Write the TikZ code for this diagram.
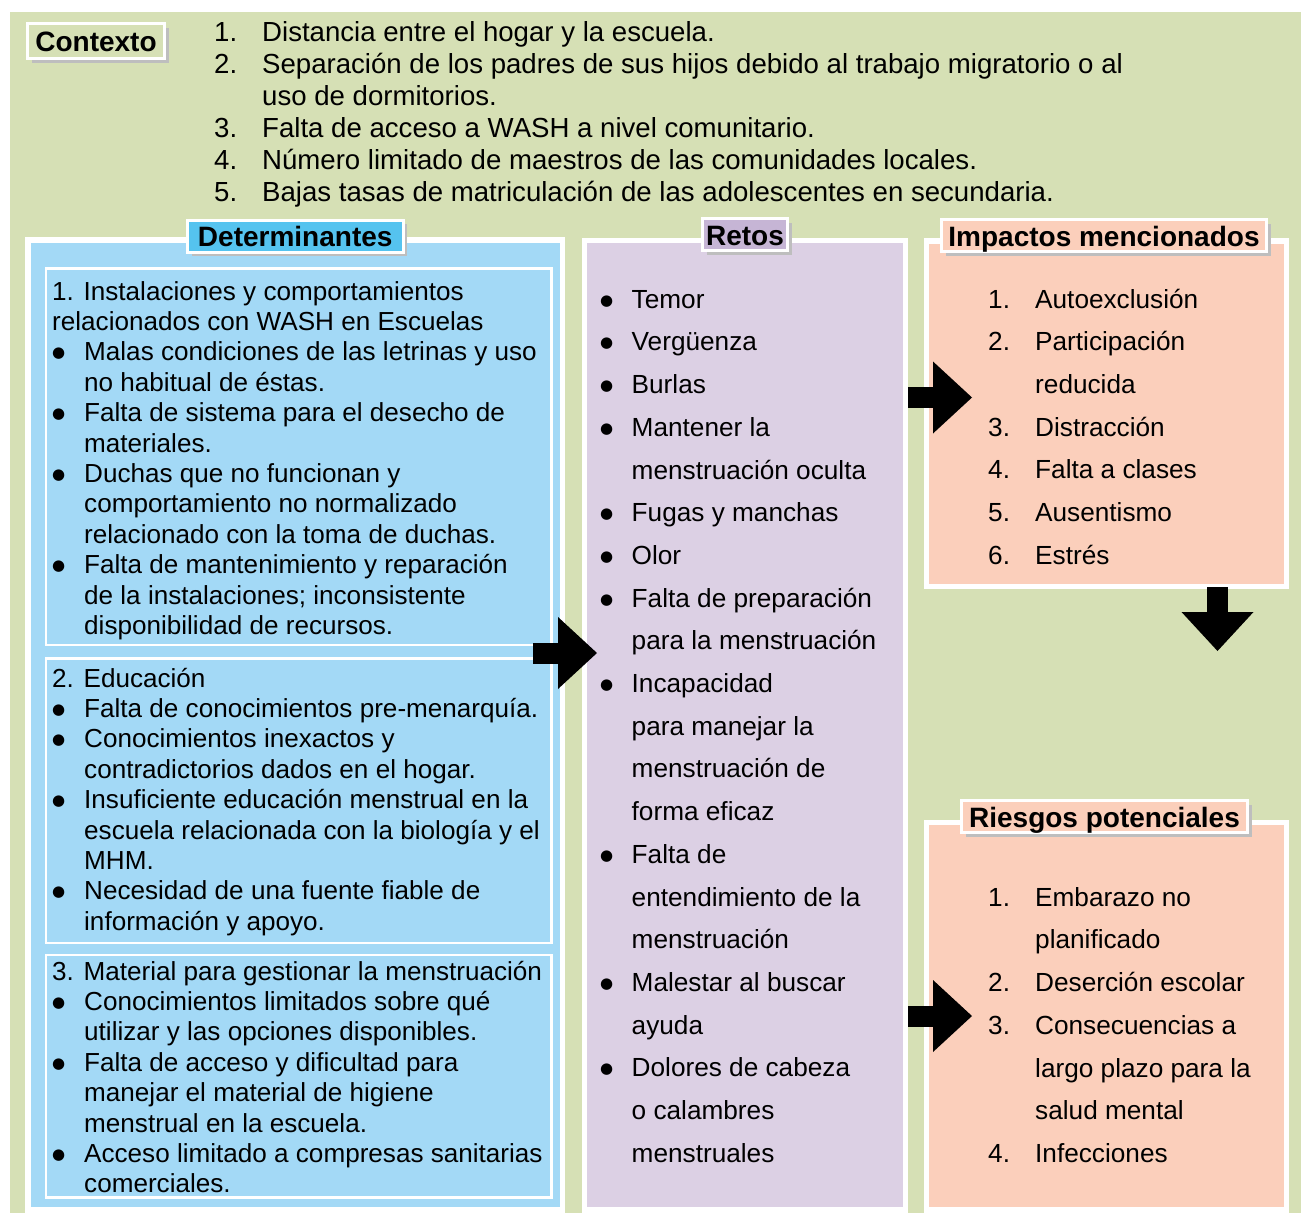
\documentclass[tikz,border=0pt]{standalone}
\usepackage{fontspec}
\setmainfont{Liberation Sans}
\newfontfamily\simbolos{DejaVu Sans}
\usepackage{xcolor}
\usetikzlibrary{arrows.meta, positioning, shadows}

\definecolor{fondo}{HTML}{D6E0B5}
\definecolor{azul}{HTML}{A3D9F6}
\definecolor{azultit}{HTML}{55C3EF}
\definecolor{lila}{HTML}{DCD0E4}
\definecolor{lilatit}{HTML}{C6B5D5}
\definecolor{salmon}{HTML}{FBCFBB}
\definecolor{sombra}{HTML}{BEBEBE}

\newcommand\linea[1]{\multicolumn{2}{@{}l@{}}{#1}}
\newcommand\punto{\raisebox{3pt}{\simbolos\fontsize{15}{16}\selectfont ●}}

\begin{document}
\begin{tikzpicture}[x=1pt,y=-1pt]
    \tikzstyle{panel}=[rectangle,draw=white,line width=5.5pt,inner sep=0pt,outer sep=0pt,anchor=north west]
    \tikzstyle{inbox}=[panel,fill=azul,line width=2.5pt,minimum width=505.5pt]
    \tikzstyle{heading}=[rectangle,draw=white,line width=3pt,inner xsep=0pt,inner ysep=3pt,outer sep=0pt,text height=23.5pt,text depth=2.5pt,font=\fontsize{28}{30}\selectfont\bfseries,drop shadow={fill=sombra,opacity=1,shadow xshift=4pt,shadow yshift=-4pt}]
    \tikzstyle{txt}=[anchor=north west,inner sep=0pt]
    \tikzstyle{bigarrow}=[draw,line width=21pt,-{Triangle[length=39pt,width=72pt,line width=0pt]}]

    \useasboundingbox (0,0) rectangle (1301,1213);
    \fill[white] (0,0) rectangle (1301,1213);
    \fill[fondo] (10,12) rectangle (1301,1213);

    % columnas
    \node[panel,fill=azul,minimum width=534.5pt,minimum height=970pt] (det) at (28,240) {};
    \node[panel,fill=lila,minimum width=321pt,minimum height=969.5pt] (retos) at (584.5,240.5) {};
    \node[panel,fill=salmon,minimum width=360pt,minimum height=345.5pt] (imp) at (926.5,241) {};
    \node[panel,fill=salmon,minimum width=360pt,minimum height=387.5pt] (ries) at (926.5,822.5) {};
    \node[inbox,minimum height=376.5pt] (det1) at (46,268.5) {};
    \node[inbox,minimum height=284.5pt] (det2) at (46,658.5) {};
    \node[inbox,minimum height=242.5pt] (det3) at (46,955) {};

    % titulos
    \node[heading,fill=fondo,minimum width=137pt,minimum height=35pt] (ctx) at (96,41) {Contexto};
    \node[heading,fill=azultit,minimum width=215.5pt] (detlbl) at ([yshift=4pt]det.north) {Determinantes};
    \node[heading,fill=lilatit,minimum width=85pt] (retoslbl) at ([yshift=6pt]retos.north) {Retos};
    \node[heading,fill=salmon,minimum width=325pt] (implbl) at ([xshift=-2.5pt,yshift=5.5pt]imp.north) {Impactos mencionados};
    \node[heading,fill=salmon,minimum width=286pt] (rieslbl) at ([xshift=-2pt,yshift=6pt]ries.north) {Riesgos potenciales};

    % textos
    \node[txt,font=\fontsize{27.6}{32}\selectfont] (ctxlist) at (214,18.6) {%
      \begin{tabular}{@{}p{48pt}@{}l@{}}
      1. & Distancia entre el hogar y la escuela.\\
      2. & Separación de los padres de sus hijos debido al trabajo migratorio o al\\
         & uso de dormitorios.\\
      3. & Falta de acceso a WASH a nivel comunitario.\\
      4. & Número limitado de maestros de las comunidades locales.\\
      5. & Bajas tasas de matriculación de las adolescentes en secundaria.
      \end{tabular}};
    \node[txt,font=\fontsize{26.1}{30.4}\selectfont] (det1txt) at (52,278.7) {%
      \begin{tabular}{@{}p{32pt}@{}l@{}}
      \linea{1. Instalaciones y comportamientos}\\
      \linea{relacionados con WASH en Escuelas}\\
      \punto & Malas condiciones de las letrinas y uso\\
             & no habitual de éstas.\\
      \punto & Falta de sistema para el desecho de\\
             & materiales.\\
      \punto & Duchas que no funcionan y\\
             & comportamiento no normalizado\\
             & relacionado con la toma de duchas.\\
      \punto & Falta de mantenimiento y reparación\\
             & de la instalaciones; inconsistente\\
             & disponibilidad de recursos.
      \end{tabular}};
    \node[txt,font=\fontsize{26.1}{30.4}\selectfont] (det2txt) at (52,665.7) {%
      \begin{tabular}{@{}p{32pt}@{}l@{}}
      \linea{2. Educación}\\
      \punto & Falta de conocimientos pre-menarquía.\\
      \punto & Conocimientos inexactos y\\
             & contradictorios dados en el hogar.\\
      \punto & Insuficiente educación menstrual en la\\
             & escuela relacionada con la biología y el\\
             & MHM.\\
      \punto & Necesidad de una fuente fiable de\\
             & información y apoyo.
      \end{tabular}};
    \node[txt,font=\fontsize{26.1}{30.4}\selectfont] (det3txt) at (52,958.7) {%
      \begin{tabular}{@{}p{32pt}@{}l@{}}
      \linea{3. Material para gestionar la menstruación}\\
      \punto & Conocimientos limitados sobre qué\\
             & utilizar y las opciones disponibles.\\
      \punto & Falta de acceso y dificultad para\\
             & manejar el material de higiene\\
             & menstrual en la escuela.\\
      \punto & Acceso limitado a compresas sanitarias\\
             & comerciales.
      \end{tabular}};
    \node[txt,font=\fontsize{26.2}{42.7}\selectfont] (retostxt) at (600,278.1) {%
      \begin{tabular}{@{}p{31.5pt}@{}l@{}}
      \punto & Temor\\
      \punto & Vergüenza\\
      \punto & Burlas\\
      \punto & Mantener la\\
             & menstruación oculta\\
      \punto & Fugas y manchas\\
      \punto & Olor\\
      \punto & Falta de preparación\\
             & para la menstruación\\
      \punto & Incapacidad\\
             & para manejar la\\
             & menstruación de\\
             & forma eficaz\\
      \punto & Falta de\\
             & entendimiento de la\\
             & menstruación\\
      \punto & Malestar al buscar\\
             & ayuda\\
      \punto & Dolores de cabeza\\
             & o calambres\\
             & menstruales
      \end{tabular}};
    \node[txt,font=\fontsize{26.2}{42.7}\selectfont] (imptxt) at (988,278.1) {%
      \begin{tabular}{@{}p{47pt}@{}l@{}}
      1. & Autoexclusión\\
      2. & Participación\\
         & reducida\\
      3. & Distracción\\
      4. & Falta a clases\\
      5. & Ausentismo\\
      6. & Estrés
      \end{tabular}};
    \node[txt,font=\fontsize{26.2}{42.7}\selectfont] (riestxt) at (988,876.1) {%
      \begin{tabular}{@{}p{47pt}@{}l@{}}
      1. & Embarazo no\\
         & planificado\\
      2. & Deserción escolar\\
      3. & Consecuencias a\\
         & largo plazo para la\\
         & salud mental\\
      4. & Infecciones
      \end{tabular}};

    % flechas
    \coordinate (a1s) at (533,653);
    \coordinate (a1e) at (597,653);
    \coordinate (a2s) at (908,397.5);
    \coordinate (a2e) at (972,397.5);
    \coordinate (a3s) at (1217.5,587);
    \coordinate (a3e) at (1217.5,651);
    \coordinate (a4s) at (908,1016);
    \coordinate (a4e) at (972,1016);
    \path
    (a1s) edge[bigarrow] (a1e)
    (a2s) edge[bigarrow] (a2e)
    (a3s) edge[bigarrow] (a3e)
    (a4s) edge[bigarrow] (a4e)
   ;
\end{tikzpicture}
\end{document}
